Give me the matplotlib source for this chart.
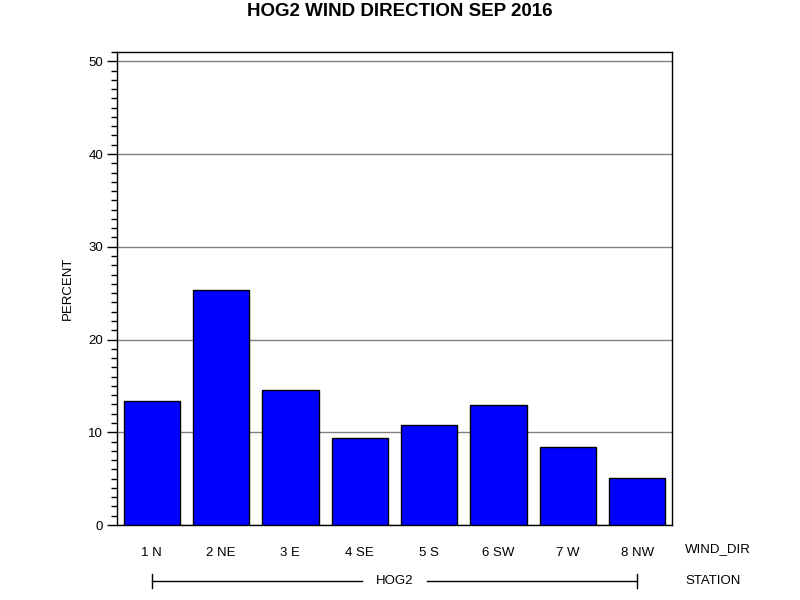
import matplotlib
matplotlib.use("Agg")
import matplotlib.pyplot as plt
from matplotlib.ticker import MultipleLocator
from matplotlib.transforms import blended_transform_factory

title = "HOG2 WIND DIRECTION SEP 2016"
categories = ["1 N", "2 NE", "3 E", "4 SE", "5 S", "6 SW", "7 W", "8 NW"]
percent = [13.37, 25.33, 14.6, 9.35, 10.76, 12.93, 8.37, 5.11]
station = "HOG2"

plt.rcParams['font.family'] = ['Liberation Sans', 'DejaVu Sans']

fig = plt.figure(figsize=(8, 6), dpi=100)
ax = fig.add_axes([117/800, 1-525/600, (672-117)/800, (525-52)/600])

x = list(range(len(categories)))
ax.bar(x, percent, width=0.81, color="#0000ff", edgecolor="black", linewidth=1.0, zorder=3)

ax.set_xlim(-0.5, len(categories)-0.5)
ax.set_ylim(0, 51)
ax.yaxis.set_major_locator(MultipleLocator(10))
ax.yaxis.set_minor_locator(MultipleLocator(1))
ax.tick_params(axis='y', which='major', length=7, width=1, direction='out', labelsize=9.5, pad=3)
ax.tick_params(axis='y', which='minor', length=4, width=1, direction='out')
ax.set_xticks(x)
ax.set_xticklabels(categories, fontsize=9.5)
ax.tick_params(axis='x', length=0, pad=16)
ax.grid(axis='y', which='major', color='#808080', linewidth=1, zorder=1)
for s in ax.spines.values():
    s.set_linewidth(1)
    s.set_color('black')

ax.set_ylabel("PERCENT", fontsize=9.5, labelpad=10)
fig.text(0.5, 1-12/600, title, ha='center', va='center', fontsize=13.5, fontweight='bold')

trans = blended_transform_factory(ax.transData, fig.transFigure)
fig.text(685/800, 1-549/600, "WIND_DIR", ha='left', va='center', fontsize=9.5)
fig.text(685/800, 1-581/600, "STATION", ha='left', va='center', fontsize=9.5)

ys = 1-581/600
x0 = 0
x1 = len(categories)-1
mid = (x0 + x1)/2
ax.text(mid, ys, station, transform=trans, ha='center', va='center', fontsize=9.5)
gap = 0.47
line_kw = dict(color='black', linewidth=1, transform=trans, clip_on=False)
ax.plot([x0, mid-gap], [ys, ys], **line_kw)
ax.plot([mid+gap, x1], [ys, ys], **line_kw)
ax.plot([x0, x0], [ys-0.012, ys+0.012], **line_kw)
ax.plot([x1, x1], [ys-0.012, ys+0.012], **line_kw)

fig.savefig("out.png", dpi=100)
